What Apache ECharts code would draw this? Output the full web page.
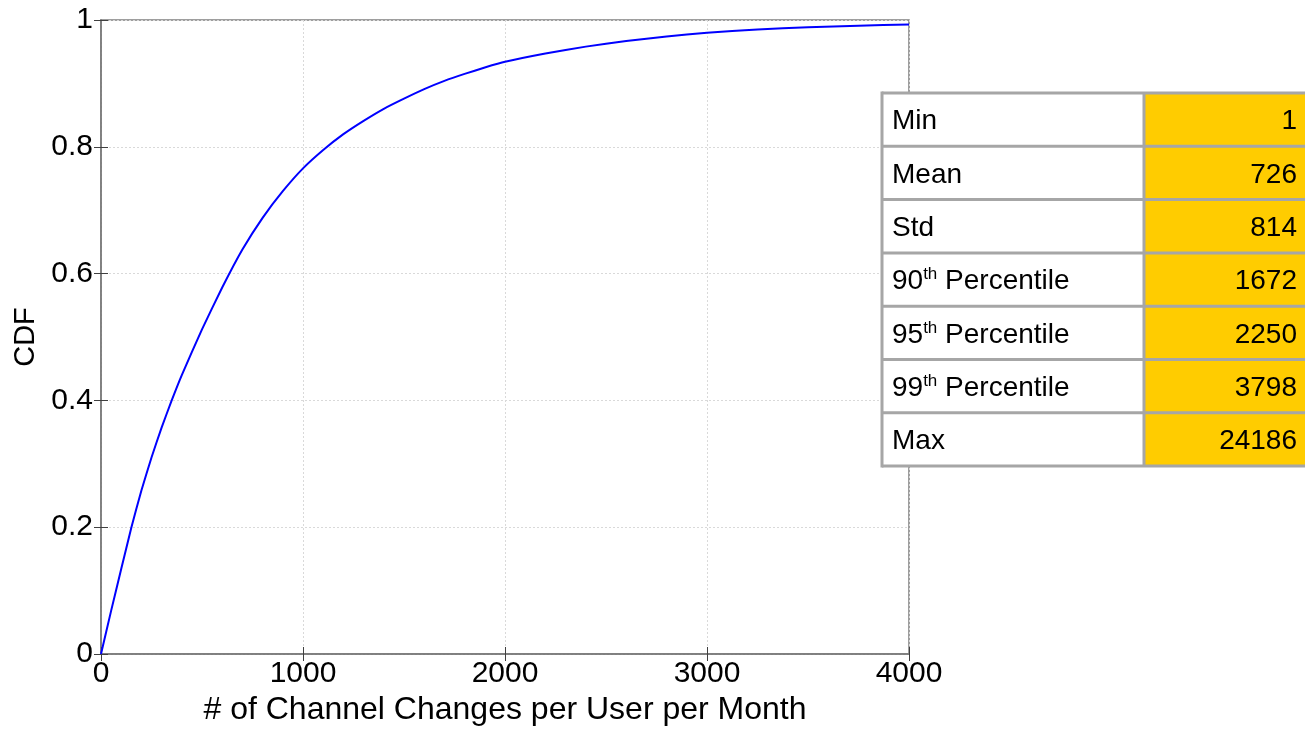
<!DOCTYPE html>
<html>
<head>
<meta charset="utf-8">
<script src="https://cdn.jsdelivr.net/npm/echarts@6/dist/echarts.min.js"></script>
<style>
html,body{margin:0;padding:0;background:#fff;}
#chart{width:1305px;height:731px;}
</style>
</head>
<body>
<div id="chart"></div>
<script>
// Curve data
var channelChanges = [0, 50, 100, 150, 200, 250, 300, 350, 400, 500, 600, 700, 800, 900, 1000, 1100, 1200, 1300, 1400, 1500, 1600, 1700, 1800, 1900, 2000, 2200, 2400, 2600, 2800, 3000, 3250, 3500, 3750, 4000];
var cdfValues = [0, 0.068, 0.134, 0.199, 0.258, 0.31, 0.357, 0.4, 0.44, 0.512, 0.578, 0.638, 0.688, 0.73, 0.766, 0.795, 0.82, 0.841, 0.86, 0.876, 0.891, 0.904, 0.915, 0.925, 0.934, 0.947, 0.958, 0.967, 0.974, 0.98, 0.985, 0.9885, 0.991, 0.993];

// Tick labels
var xTicks = [0, 1000, 2000, 3000, 4000];
var yTicks = [0, 0.2, 0.4, 0.6, 0.8, 1];

// Summary table
var statLabels = ['Min', 'Mean', 'Std', '90{sup|th} Percentile', '95{sup|th} Percentile', '99{sup|th} Percentile', 'Max'];
var statValues = [1, 726, 814, 1672, 2250, 3798, 24186];

var FONT = '"Liberation Sans", Arial, sans-serif';
var chart = echarts.init(document.getElementById('chart'), null, {renderer: 'canvas'});

var seriesData = channelChanges.map(function (x, i) { return [x, cdfValues[i]]; });

// table layout
var tLeft = 882, tTop = 93, tDiv = 1144, tRight = 1310, rowH = 53.3;
var graphics = [];
graphics.push({type: 'rect', z: 100, shape: {x: tLeft, y: tTop, width: tDiv - tLeft, height: rowH * statLabels.length}, style: {fill: '#ffffff'}});
graphics.push({type: 'rect', z: 100, shape: {x: tDiv, y: tTop, width: tRight - tDiv, height: rowH * statLabels.length}, style: {fill: '#ffcc00'}});
for (var i = 0; i < statLabels.length; i++) {
  var yC = tTop + rowH * (i + 0.5) + 2;
  graphics.push({type: 'text', z: 102, x: 892, y: yC, style: {
    text: statLabels[i], fill: '#000', font: '28px ' + FONT, verticalAlign: 'middle', align: 'left',
    rich: {sup: {fontSize: 17, fontFamily: FONT, verticalAlign: 'top', padding: [0, 0, 14, 0], fill: '#000'}}
  }});
  graphics.push({type: 'text', z: 102, x: 1297, y: yC, style: {
    text: String(statValues[i]), fill: '#000', font: '28px ' + FONT, verticalAlign: 'middle', align: 'right'
  }});
}
for (var r = 0; r <= statLabels.length; r++) {
  var yy = tTop + rowH * r;
  graphics.push({type: 'line', z: 101, shape: {x1: tLeft, y1: yy, x2: tRight, y2: yy}, style: {stroke: '#a6a6a6', lineWidth: 3}});
}
graphics.push({type: 'line', z: 101, shape: {x1: tLeft, y1: tTop - 1.5, x2: tLeft, y2: tTop + rowH * statLabels.length + 1.5}, style: {stroke: '#a6a6a6', lineWidth: 3}});
graphics.push({type: 'line', z: 101, shape: {x1: tDiv, y1: tTop, x2: tDiv, y2: tTop + rowH * statLabels.length}, style: {stroke: '#a6a6a6', lineWidth: 3}});

var axisLineStyle = {color: '#7f7f7f', width: 1.5};
var tickStyle = {show: true, inside: true, length: 7, lineStyle: {color: '#404040', width: 1}};
var option = {
  backgroundColor: '#ffffff',
  animation: false,
  grid: {left: 101, right: 396, top: 20, bottom: 75, show: true, borderColor: '#7f7f7f', borderWidth: 1.5, backgroundColor: 'transparent'},
  xAxis: [{
    type: 'value', min: xTicks[0], max: xTicks[xTicks.length - 1], interval: xTicks[1] - xTicks[0],
    name: '# of Channel Changes per User per Month', nameLocation: 'middle', nameGap: 40,
    nameTextStyle: {fontFamily: FONT, fontSize: 32, color: '#000'},
    axisLine: {show: true, lineStyle: axisLineStyle},
    axisTick: tickStyle,
    axisLabel: {fontFamily: FONT, fontSize: 30, color: '#000', margin: 5,
      formatter: function (v) { return String(v); }},
    splitLine: {show: true, lineStyle: {color: '#d9d9d9', type: [2, 2], width: 1}}
  }, {
    type: 'value', position: 'top', min: xTicks[0], max: xTicks[xTicks.length - 1], interval: xTicks[1] - xTicks[0],
    axisLine: {show: true, lineStyle: axisLineStyle},
    axisTick: tickStyle,
    axisLabel: {show: false}, splitLine: {show: false}
  }],
  yAxis: [{
    type: 'value', min: yTicks[0], max: yTicks[yTicks.length - 1], interval: 0.2,
    name: 'CDF', nameLocation: 'middle', nameGap: 60,
    nameTextStyle: {fontFamily: FONT, fontSize: 29, color: '#000'},
    axisLine: {show: true, lineStyle: axisLineStyle},
    axisTick: tickStyle,
    axisLabel: {fontFamily: FONT, fontSize: 30, color: '#000', margin: 8,
      formatter: function (v) { return String(Math.round(v * 10) / 10); }},
    splitLine: {show: true, lineStyle: {color: '#d9d9d9', type: [2, 2], width: 1}}
  }, {
    type: 'value', position: 'right', min: yTicks[0], max: yTicks[yTicks.length - 1], interval: 0.2,
    axisLine: {show: true, lineStyle: axisLineStyle},
    axisTick: tickStyle,
    axisLabel: {show: false}, splitLine: {show: false}
  }],
  series: [{
    type: 'line', data: seriesData, smooth: 0.15, showSymbol: false, symbol: 'none',
    lineStyle: {color: '#0000ff', width: 2}, xAxisIndex: 0, yAxisIndex: 0, z: 5
  }],
  graphic: graphics
};
chart.setOption(option);
</script>
</body>
</html>
